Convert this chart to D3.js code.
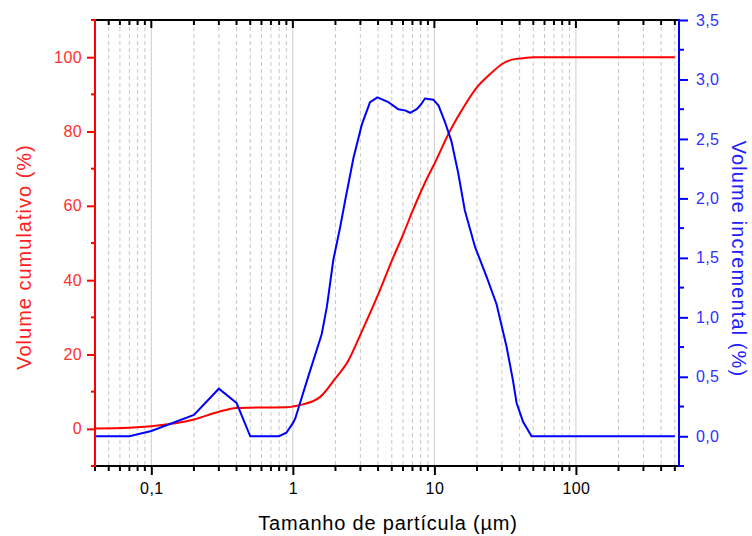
<!DOCTYPE html>
<html><head><meta charset="utf-8">
<script src="https://cdn.jsdelivr.net/npm/d3@7"></script>
<style>body{margin:0;background:#fff}svg{display:block}</style>
</head><body>
<svg id="c" width="752" height="536"></svg>
<script>
// Data
const cumSize = [0.04, 0.07, 0.1, 0.2, 0.3, 0.4, 0.5, 0.9, 1.0, 1.13, 1.56, 1.99, 2.47, 2.98, 4.02, 5.0, 6.03, 7.1, 9.06, 9.83, 12.9, 16, 19.9, 24.7, 29.9, 36, 42.4, 50, 500];
const cumValue = [0.1, 0.3, 0.7, 2.5, 4.6, 5.6, 5.7, 5.8, 6.0, 6.4, 8.6, 13.5, 18.4, 25.1, 36.3, 45.2, 52.4, 59.1, 68.1, 70.7, 80.2, 86.4, 91.8, 95.4, 98.1, 99.4, 99.7, 100, 100];
const incSize = [0.04, 0.07, 0.1, 0.2, 0.3, 0.4, 0.5, 0.8, 0.9, 1.0, 1.04, 1.26, 1.6, 1.74, 1.93, 2.16, 2.34, 2.68, 3.07, 3.51, 3.96, 4.73, 5.56, 6.2, 6.73, 7.5, 8.04, 8.58, 9.83, 10.7, 11.9, 13.2, 14.7, 16.4, 19.4, 23.4, 27.5, 32.4, 35.9, 38.1, 42.4, 48.6, 500];
const incValue = [0, 0, 0.044, 0.18, 0.40, 0.28, 0, 0, 0.03, 0.11, 0.15, 0.47, 0.86, 1.09, 1.48, 1.76, 1.98, 2.34, 2.62, 2.81, 2.85, 2.81, 2.75, 2.74, 2.72, 2.75, 2.79, 2.84, 2.83, 2.78, 2.64, 2.48, 2.22, 1.90, 1.59, 1.34, 1.11, 0.75, 0.47, 0.28, 0.12, 0, 0];
const xTickValues = [0.1, 1, 10, 100];
const xTickLabels = ["0,1", "1", "10", "100"];
const leftTicks = [0, 20, 40, 60, 80, 100];
const rightTicks = [0, 0.5, 1, 1.5, 2, 2.5, 3, 3.5];

const L = 95, R = 679, T = 20, B = 466;
const svg = d3.select("#c");
const font = "'Liberation Sans', Arial, sans-serif";

const x = d3.scaleLog().domain([0.04, 535]).range([L, R]);
const yL = d3.scaleLinear().domain([-10, 110]).range([B, T]);
const yR = d3.scaleLinear().domain([-0.25, 3.5]).range([B, T]);

// minor x values
const minors = [];
for (let e = -2; e <= 2; e++) for (let m = 2; m <= 9; m++) {
  const v = m * Math.pow(10, e);
  if (v >= 0.04 && v <= 535) minors.push(v);
}

// grid
const g = svg.append("g");
g.selectAll("line.mn").data(minors).join("line")
  .attr("x1", d => x(d)).attr("x2", d => x(d)).attr("y1", T).attr("y2", B)
  .attr("stroke", "#c8c8c8").attr("stroke-width", 1).attr("stroke-dasharray", "4,3");
g.selectAll("line.mj").data(xTickValues).join("line")
  .attr("x1", d => x(d)).attr("x2", d => x(d)).attr("y1", T).attr("y2", B)
  .attr("stroke", "#cccccc").attr("stroke-width", 1);

// curves
const lineC = d3.line().x((d, i) => x(cumSize[i])).y(d => yL(d)).curve(d3.curveMonotoneX);
svg.append("path").attr("d", lineC(cumValue)).attr("fill", "none").attr("stroke", "#ff0000").attr("stroke-width", 2);
const lineI = d3.line().x((d, i) => x(incSize[i])).y(d => yR(d));
svg.append("path").attr("d", lineI(incValue)).attr("fill", "none").attr("stroke", "#0000ff").attr("stroke-width", 2);

// bottom axis
const xb = d3.axisBottom(x).tickValues(xTickValues).tickFormat((d, i) => xTickLabels[i]).tickSize(9).tickSizeOuter(0);
const gb = svg.append("g").attr("transform", `translate(0,${B})`).call(xb);
gb.select(".domain").remove();
gb.selectAll(".tick line").attr("stroke", "#000").attr("stroke-width", 2);
gb.selectAll(".tick text").attr("font-family", font).attr("font-size", 16).attr("letter-spacing", 0.4).attr("fill", "#000").attr("dy", "1.0em");
svg.append("g").selectAll("line").data(minors).join("line")
  .attr("x1", d => x(d)).attr("x2", d => x(d)).attr("y1", B).attr("y2", B + 5)
  .attr("stroke", "#000").attr("stroke-width", 2);
svg.append("line").attr("x1", L).attr("x2", R).attr("y1", B).attr("y2", B).attr("stroke", "#000").attr("stroke-width", 2);

// top axis (inward ticks)
svg.append("g").selectAll("line").data(xTickValues).join("line")
  .attr("x1", d => x(d)).attr("x2", d => x(d)).attr("y1", T).attr("y2", T + 8)
  .attr("stroke", "#000").attr("stroke-width", 2);
svg.append("g").selectAll("line").data(minors).join("line")
  .attr("x1", d => x(d)).attr("x2", d => x(d)).attr("y1", T).attr("y2", T + 5)
  .attr("stroke", "#000").attr("stroke-width", 2);
svg.append("line").attr("x1", L).attr("x2", R).attr("y1", T).attr("y2", T).attr("stroke", "#000").attr("stroke-width", 2);

// left axis
const ya = d3.axisLeft(yL).tickValues(leftTicks).tickSize(8).tickSizeOuter(0);
const gl = svg.append("g").attr("transform", `translate(${L},0)`).call(ya);
gl.select(".domain").remove();
gl.selectAll(".tick line").attr("stroke", "#ff0000").attr("stroke-width", 2);
gl.selectAll(".tick text").attr("font-family", font).attr("font-size", 16).attr("letter-spacing", 0.4).attr("fill", "#ff3030").attr("x", -13);
svg.append("g").selectAll("line").data([-10, 10, 30, 50, 70, 90, 110]).join("line")
  .attr("x1", L - 4).attr("x2", L).attr("y1", d => yL(d)).attr("y2", d => yL(d))
  .attr("stroke", "#ff0000").attr("stroke-width", 2);
svg.append("line").attr("x1", L).attr("x2", L).attr("y1", T - 1).attr("y2", B + 1).attr("stroke", "#ff0000").attr("stroke-width", 2);

// right axis
const yr = d3.axisRight(yR).tickValues(rightTicks).tickFormat(d => d3.format(".1f")(d).replace(".", ",")).tickSize(9).tickSizeOuter(0);
const gr = svg.append("g").attr("transform", `translate(${R},0)`).call(yr);
gr.select(".domain").remove();
gr.selectAll(".tick line").attr("stroke", "#0000ff").attr("stroke-width", 2);
gr.selectAll(".tick text").attr("font-family", font).attr("font-size", 16).attr("letter-spacing", 0.3).attr("fill", "#3030ff").attr("x", 17);
svg.append("g").selectAll("line").data([-0.25, 0.25, 0.75, 1.25, 1.75, 2.25, 2.75, 3.25]).join("line")
  .attr("x1", R).attr("x2", R + 5).attr("y1", d => yR(d)).attr("y2", d => yR(d))
  .attr("stroke", "#0000ff").attr("stroke-width", 2);
svg.append("line").attr("x1", L).attr("x2", L).attr("y1", 0).attr("y2", 0);
svg.append("line").attr("x1", R).attr("x2", R).attr("y1", T - 1).attr("y2", B + 1).attr("stroke", "#0000ff").attr("stroke-width", 2);

// titles
svg.append("text").attr("transform", `translate(31,257) rotate(-90)`)
  .attr("text-anchor", "middle").attr("font-family", font).attr("font-size", 20).attr("letter-spacing", 1.0).attr("fill", "#ff2020")
  .text("Volume cumulativo (%)");
svg.append("text").attr("transform", `translate(732,259) rotate(90)`)
  .attr("text-anchor", "middle").attr("font-family", font).attr("font-size", 20).attr("letter-spacing", 1.1).attr("fill", "#2020ff")
  .text("Volume incremental (%)");
svg.append("text").attr("x", 388).attr("y", 530)
  .attr("text-anchor", "middle").attr("font-family", font).attr("font-size", 20).attr("letter-spacing", 0.8).attr("fill", "#000")
  .text("Tamanho de partícula (µm)");
</script>
</body></html>
